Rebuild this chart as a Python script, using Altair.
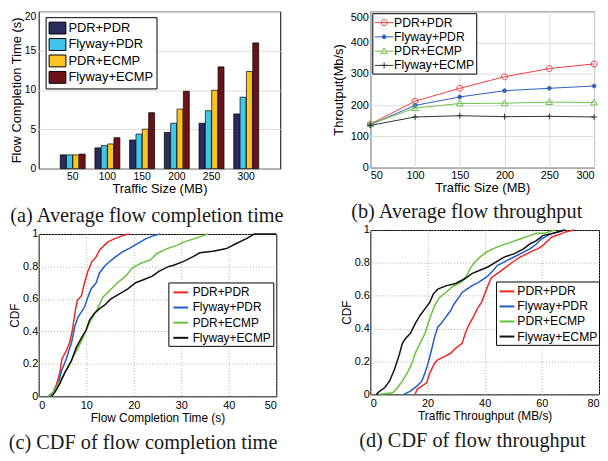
import altair as alt
import pandas as pd

SERIES = ["PDR+PDR", "Flyway+PDR", "PDR+ECMP", "Flyway+ECMP"]
MARKER_KEYS = ["m0", "m1", "m2", "m3"]
BAR_COLORS = ["#2a2c5e", "#40c6ea", "#fcc41e", "#6b1219"]
LINE_B_COLORS = ["#f03e3e", "#2f5fb5", "#6cc34c", "#333333"]
CDF_COLORS = ["#f42424", "#1f5cc4", "#66c23a", "#111111"]

# tick values
a_yticks = [0, 5, 10, 15, 20]
b_yticks = [0, 100, 200, 300, 400, 500]
c_xticks = [0, 10, 20, 30, 40, 50]
d_xticks = [0, 20, 40, 60, 80]
cdf_yticks = [0, 0.2, 0.4, 0.6, 0.8, 1]

# (a) average flow completion time (s)
sizes = [50, 100, 150, 200, 250, 300]
fct_pdr_pdr = [1.75, 2.64, 3.64, 4.60, 5.77, 6.95]
fct_flyway_pdr = [1.75, 2.93, 4.39, 5.77, 7.36, 9.08]
fct_pdr_ecmp = [1.75, 3.14, 5.02, 7.57, 9.96, 12.34]
fct_flyway_ecmp = [1.85, 3.93, 7.11, 9.83, 12.93, 15.98]

# (b) average flow throughput (Mb/s)
thr_pdr_pdr = [139, 212.6, 253.7, 290.5, 316.8, 331.6]
thr_flyway_pdr = [137, 199, 226, 246, 253.7, 261]
thr_pdr_ecmp = [139, 190.5, 205, 206, 209.5, 208.4]
thr_flyway_ecmp = [135, 162, 166, 163, 164, 162]

# (c) CDF of flow completion time
cfct_pdr_pdr_x = [2.0, 3.05, 3.75, 4.45, 4.9, 5.8, 6.5, 7.1, 7.6, 8.1, 9.0, 9.65, 10.35, 11.2, 12.1, 12.8, 13.8, 14.5, 15.9, 17.6, 19.0]
cfct_pdr_pdr_y = [0, 0.024, 0.075, 0.146, 0.23, 0.28, 0.33, 0.41, 0.51, 0.59, 0.62, 0.70, 0.77, 0.83, 0.86, 0.90, 0.93, 0.95, 0.97, 0.99, 1.0]
cfct_flyway_pdr_x = [2.4, 3.4, 4.2, 4.8, 5.8, 6.9, 7.6, 8.3, 9.0, 9.65, 10.35, 11.0, 12.1, 12.8, 13.8, 14.9, 16.25, 17.6, 19.0, 20.8, 22.5, 24.2, 25.6]
cfct_flyway_pdr_y = [0, 0.035, 0.085, 0.156, 0.23, 0.33, 0.43, 0.49, 0.52, 0.55, 0.61, 0.66, 0.70, 0.76, 0.80, 0.83, 0.86, 0.89, 0.91, 0.94, 0.97, 0.99, 1.0]
cfct_pdr_ecmp_x = [1.9, 3.05, 4.1, 5.15, 6.2, 7.2, 8.3, 9.3, 10.35, 11.4, 12.4, 13.5, 14.9, 16.6, 18.3, 19.7, 21.5, 23.5, 24.9, 27.0, 29.1, 30.5, 32.6, 34.7, 35.6]
cfct_pdr_ecmp_y = [0, 0.02, 0.075, 0.126, 0.18, 0.24, 0.30, 0.36, 0.43, 0.49, 0.54, 0.61, 0.65, 0.70, 0.74, 0.79, 0.82, 0.84, 0.88, 0.91, 0.93, 0.95, 0.97, 0.99, 1.0]
cfct_flyway_ecmp_x = [2.7, 3.4, 4.4, 5.5, 6.9, 7.9, 9.0, 10.0, 10.7, 11.7, 12.8, 13.8, 15.2, 16.9, 18.7, 20.4, 22.2, 23.9, 25.3, 27.4, 28.4, 30.4, 32.5, 33.9, 36.7, 39.5, 41.5, 43.6, 45.4, 50.0]
cfct_flyway_ecmp_y = [0, 0.024, 0.075, 0.146, 0.22, 0.30, 0.36, 0.41, 0.47, 0.51, 0.54, 0.56, 0.60, 0.63, 0.66, 0.70, 0.72, 0.74, 0.77, 0.80, 0.807, 0.83, 0.86, 0.884, 0.894, 0.91, 0.94, 0.97, 1.0, 1.0]

# (d) CDF of flow throughput
cthr_pdr_pdr_x = [15.7, 16.3, 18.0, 19.7, 20.8, 22.5, 23.6, 25.9, 28.1, 29.8, 32.1, 33.2, 34.4, 36.0, 37.7, 38.9, 40.0, 41.1, 42.3, 44.0, 45.6, 47.9, 50.2, 52.4, 54.7, 56.9, 58.6, 60.3, 63.5, 66.9, 68.6, 71.4]
cthr_pdr_pdr_y = [0, 0.03, 0.05, 0.07, 0.13, 0.19, 0.21, 0.23, 0.25, 0.28, 0.31, 0.37, 0.42, 0.47, 0.53, 0.56, 0.61, 0.66, 0.71, 0.73, 0.75, 0.78, 0.81, 0.835, 0.855, 0.875, 0.885, 0.905, 0.958, 0.978, 0.99, 1.0]
cthr_flyway_pdr_x = [11.75, 14.0, 16.3, 18.0, 19.1, 20.2, 21.4, 22.5, 23.6, 24.7, 26.4, 28.1, 29.3, 31.0, 32.1, 33.8, 35.5, 37.7, 39.4, 41.1, 42.8, 44.5, 46.8, 49.0, 51.3, 53.6, 55.8, 58.1, 59.8, 63.0, 68.0]
cthr_flyway_pdr_y = [0, 0.02, 0.05, 0.08, 0.13, 0.19, 0.27, 0.35, 0.41, 0.43, 0.47, 0.51, 0.55, 0.59, 0.62, 0.64, 0.66, 0.68, 0.70, 0.72, 0.75, 0.785, 0.805, 0.825, 0.845, 0.865, 0.885, 0.915, 0.945, 0.975, 1.0]
cthr_pdr_ecmp_x = [3.3, 7.8, 9.5, 11.2, 12.9, 14.6, 15.7, 17.4, 19.1, 20.2, 21.4, 22.5, 24.2, 26.4, 28.7, 32.1, 33.8, 34.9, 36.6, 38.3, 40.6, 42.8, 45.6, 49.0, 52.4, 55.8, 58.1, 60.9, 64.6]
cthr_pdr_ecmp_y = [0, 0.01, 0.04, 0.08, 0.13, 0.19, 0.25, 0.31, 0.37, 0.43, 0.49, 0.54, 0.59, 0.62, 0.655, 0.685, 0.725, 0.765, 0.805, 0.835, 0.865, 0.885, 0.905, 0.925, 0.945, 0.966, 0.98, 0.98, 1.0]
cthr_flyway_ecmp_x = [2.1, 3.3, 5.0, 6.7, 8.4, 10.1, 11.2, 12.3, 14.0, 15.7, 17.4, 19.1, 20.8, 22.0, 23.6, 26.4, 29.8, 33.2, 35.5, 38.3, 41.1, 43.9, 46.8, 50.2, 53.6, 55.8, 58.1, 60.3, 64.0, 68.0]
cthr_flyway_ecmp_y = [0, 0.02, 0.04, 0.08, 0.15, 0.24, 0.31, 0.34, 0.37, 0.43, 0.48, 0.52, 0.56, 0.61, 0.64, 0.66, 0.675, 0.705, 0.735, 0.755, 0.775, 0.805, 0.835, 0.855, 0.885, 0.915, 0.935, 0.966, 0.98, 1.0]

SANS = "Liberation Sans"
SERIF = "Liberation Serif"


def long_df(xs, ys):
    rows = []
    for s, k, xv, yv in zip(SERIES, MARKER_KEYS, xs, ys):
        for a, b in zip(xv, yv):
            rows.append({"series": s, "mkey": k, "x": a, "y": b})
    return pd.DataFrame(rows)


def caption(text, dx, offset=10):
    return alt.TitleParams(text=text, orient="bottom", anchor="start", frame="bounds",
                           font=SERIF, fontSize=20.5, fontWeight="normal", color="#1a1a1a",
                           offset=offset, dx=dx)


def legend(x, y, size, **kw):
    base = dict(title=None, orient="none", legendX=x, legendY=y, direction="vertical",
                strokeColor="black", fillColor="white", padding=2,
                labelFont=SANS, labelFontSize=size, labelColor="black", labelOffset=3)
    base.update(kw)
    return alt.Legend(**base)


def top_flush(v):
    return {"condition": {"test": f"datum.value == {v}", "value": "top"}, "value": "middle"}


INDEP = dict(color="independent", stroke="independent", fill="independent", shape="independent")

# ---------- (a)
df_a = long_df([sizes] * 4, [fct_pdr_pdr, fct_flyway_pdr, fct_pdr_ecmp, fct_flyway_ecmp])
panel_a = alt.Chart(df_a).mark_bar(stroke="black", strokeWidth=0.7).encode(
    x=alt.X("x:O", scale=alt.Scale(paddingInner=0.28, paddingOuter=0.62),
            axis=alt.Axis(title="Traffic Size (MB)", labelAngle=0, labelFontSize=10.5,
                          titleFontSize=13, labelPadding=3, titlePadding=1)),
    xOffset=alt.XOffset("series:N", scale=alt.Scale(domain=SERIES, paddingInner=0.06)),
    y=alt.Y("y:Q", scale=alt.Scale(domain=[0, 20]),
            axis=alt.Axis(title="Flow Completion Time (s)", values=a_yticks,
                          labelFontSize=10.5, titleFontSize=13, labelPadding=3, titlePadding=1,
                          labelBaseline=top_flush(20))),
    color=alt.Color("series:N", scale=alt.Scale(domain=SERIES, range=BAR_COLORS),
                    legend=legend(7, 6, 13, symbolType="M-1.13,-0.8H1.13V0.8H-1.13Z", symbolSize=225,
                                  symbolStrokeColor="black", symbolStrokeWidth=1, rowPadding=0.6,
                                  padding=3, symbolOffset=1, labelOffset=3)),
).properties(width=244, height=159, title=caption("(a) Average flow completion time", 0))

# ---------- (b)
df_b = long_df([sizes] * 4, [thr_pdr_pdr, thr_flyway_pdr, thr_pdr_ecmp, thr_flyway_ecmp])
M_CIRCLE = "M-0.43,0A0.43,0.43 0 1,1 0.43,0A0.43,0.43 0 1,1 -0.43,0Z"
M_DOT = "M-0.27,0A0.27,0.27 0 1,1 0.27,0A0.27,0.27 0 1,1 -0.27,0Z"
M_TRI = "M-0.48,0.36L0,-0.48L0.48,0.36Z"
M_PLUS = "M-0.43,0H0.43M0,-0.43V0.43"

xb = alt.X("x:Q", scale=alt.Scale(domain=[50, 300], nice=False),
           axis=alt.Axis(title="Traffic Size (MB)", values=sizes, labelFontSize=11,
                         titleFontSize=13, labelPadding=2, titlePadding=1))
yb = alt.Y("y:Q", scale=alt.Scale(domain=[0, 500]),
           axis=alt.Axis(title="Throutput(Mb/s)", values=b_yticks,
                         labelFontSize=11, titleFontSize=13, labelPadding=2, titlePadding=5,
                         labelBaseline=top_flush(500)))
line_b = alt.Chart(df_b).mark_line(strokeWidth=1).encode(
    x=xb, y=yb,
    color=alt.Color("series:N", scale=alt.Scale(domain=SERIES, range=LINE_B_COLORS),
                    legend=legend(2, 2, 12.3, symbolType="M-1,0H1.7", symbolSize=196,
                                  symbolStrokeWidth=1, rowPadding=0.4, labelOffset=5, zindex=1)),
)
leg_marker = legend(2, 2, 12.3, symbolSize=196, symbolStrokeWidth=1, rowPadding=0.4, labelOffset=5,
                    strokeColor="transparent", fillColor="transparent", symbolFillColor="transparent",
                    symbolOffset=2.45, labelExpr="''", zindex=2)
pts_b = alt.Chart(df_b).mark_point(strokeWidth=1, opacity=1, size=196).encode(
    x=xb, y=yb,
    stroke=alt.Stroke("mkey:N", scale=alt.Scale(domain=MARKER_KEYS, range=LINE_B_COLORS), legend=leg_marker),
    fill=alt.Fill("mkey:N", scale=alt.Scale(domain=MARKER_KEYS,
                                            range=["transparent", LINE_B_COLORS[1], "transparent", "transparent"]),
                  legend=leg_marker),
    shape=alt.Shape("mkey:N", scale=alt.Scale(domain=MARKER_KEYS, range=[M_CIRCLE, M_DOT, M_TRI, M_PLUS]),
                    legend=leg_marker),
)
panel_b = alt.layer(line_b, pts_b).properties(width=226, height=158,
                                               title=caption("(b) Average flow throughput", 19, offset=8))

# ---------- (c)
df_c = long_df([cfct_pdr_pdr_x, cfct_flyway_pdr_x, cfct_pdr_ecmp_x, cfct_flyway_ecmp_x],
               [cfct_pdr_pdr_y, cfct_flyway_pdr_y, cfct_pdr_ecmp_y, cfct_flyway_ecmp_y])
grid_kw = dict(grid=True, gridDash=[1, 2], gridColor="#9a9a9a", gridWidth=0.8)
yc = alt.Y("y:Q", scale=alt.Scale(domain=[0, 1]),
           axis=alt.Axis(title="CDF", values=cdf_yticks, format="~g",
                         labelFontSize=11, titleFontSize=12, labelPadding=1, titlePadding=1, **grid_kw))
panel_c = alt.Chart(df_c).mark_line(strokeWidth=1.5).encode(
    x=alt.X("x:Q", scale=alt.Scale(domain=[0, 50]),
            axis=alt.Axis(title="Flow Completion Time (s)", values=c_xticks,
                          labelFontSize=11, titleFontSize=12, labelPadding=3, titlePadding=2, **grid_kw)),
    y=yc,
    color=alt.Color("series:N", scale=alt.Scale(domain=SERIES, range=CDF_COLORS),
                    legend=legend(131, 49, 12, symbolType="stroke", symbolSize=225,
                                  symbolStrokeWidth=2, rowPadding=0.3, padding=1.5,
                                  symbolOffset=2.5, labelOffset=3.5)),
).properties(width=240, height=164, title=caption("(c) CDF of flow completion time", 0))

# ---------- (d)
df_d = long_df([cthr_pdr_pdr_x, cthr_flyway_pdr_x, cthr_pdr_ecmp_x, cthr_flyway_ecmp_x],
               [cthr_pdr_pdr_y, cthr_flyway_pdr_y, cthr_pdr_ecmp_y, cthr_flyway_ecmp_y])
panel_d = alt.Chart(df_d).mark_line(strokeWidth=1.5).encode(
    x=alt.X("x:Q", scale=alt.Scale(domain=[0, 80]),
            axis=alt.Axis(title="Traffic Throughput (MB/s)", values=d_xticks,
                          labelFontSize=11, titleFontSize=12, labelPadding=3, titlePadding=2, **grid_kw)),
    y=yc,
    color=alt.Color("series:N", scale=alt.Scale(domain=SERIES, range=CDF_COLORS),
                    legend=legend(127, 52, 12.3, symbolType="stroke", symbolSize=225,
                                  symbolStrokeWidth=2, rowPadding=0.2, padding=1.5,
                                  symbolOffset=1, labelOffset=2)),
).properties(width=231, height=166, title=caption("(d) CDF of flow throughput", 19))

col1 = alt.vconcat(panel_a, panel_c, spacing=0).resolve_scale(**INDEP).resolve_legend(**INDEP)
col2 = alt.vconcat(panel_b, panel_d, spacing=0).resolve_scale(**INDEP).resolve_legend(**INDEP)

chart = alt.hconcat(col1, col2, spacing=46).resolve_scale(**INDEP).resolve_legend(**INDEP).properties(
    padding={"left": 0, "top": 0, "right": 0, "bottom": 0}, background="white"
).configure_view(stroke="black", strokeWidth=1).configure_axis(
    labelFont=SANS, titleFont=SANS, labelColor="black", titleColor="black",
    titleFontWeight="normal", domain=False, ticks=False, tickSize=0, minExtent=0,
)

chart.save("out.html", embed_options={"renderer": "svg", "actions": False})
